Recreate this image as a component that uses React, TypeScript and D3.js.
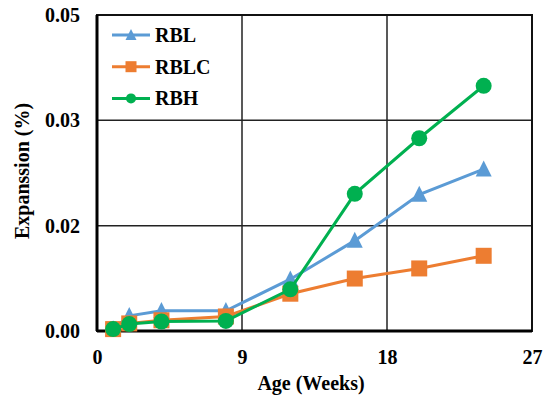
import React, { useEffect, useRef } from "react";
import * as d3 from "d3";

// weeks at which expansion was measured
const weeks = [1, 2, 4, 8, 12, 16, 20, 24];

// expansion (%)
const rbl = [0.0003, 0.0024, 0.0032, 0.0032, 0.0082, 0.0143, 0.0216, 0.0256];
const rblc = [0.0003, 0.0012, 0.0017, 0.0023, 0.0059, 0.0083, 0.0099, 0.0119];
const rbh = [0.0003, 0.0011, 0.0015, 0.0016, 0.0066, 0.0217, 0.0305, 0.0388];

const xTicks = [0, 9, 18, 27];
const yTickCount = 4; // Excel major unit = max / 3
const yMax = 0.05;

const seriesNames = ["RBL", "RBLC", "RBH"];
const seriesValues = [rbl, rblc, rbh];
const colors = ["#5B9BD5", "#ED7D31", "#00B050"];
const shapes = ["triangle", "square", "circle"];

const FONT = "'Liberation Serif', 'Times New Roman', serif";

export default function App() {
  const ref = useRef<SVGSVGElement>(null);

  useEffect(() => {
    const svg = d3.select(ref.current);
    svg.selectAll("*").remove();

    const width = 547;
    const height = 400;
    const margin = { top: 15, right: 15, bottom: 69, left: 97 };
    const innerW = width - margin.left - margin.right;
    const innerH = height - margin.top - margin.bottom;

    const x = d3.scaleLinear().domain([0, 27]).range([0, innerW]);
    const y = d3.scaleLinear().domain([0, yMax]).range([innerH, 0]);
    const yTicks = d3.range(yTickCount).map(i => (i * yMax) / (yTickCount - 1));

    const g = svg.append("g").attr("transform", `translate(${margin.left},${margin.top})`);

    // grid
    g.selectAll(".vgrid")
      .data(xTicks.slice(1, -1))
      .join("line")
      .attr("x1", d => x(d)).attr("x2", d => x(d))
      .attr("y1", 0).attr("y2", innerH)
      .attr("stroke", "#222").attr("stroke-width", 1.5);
    g.selectAll(".hgrid")
      .data(yTicks.slice(1, -1))
      .join("line")
      .attr("x1", 0).attr("x2", innerW)
      .attr("y1", d => y(d)).attr("y2", d => y(d))
      .attr("stroke", "#222").attr("stroke-width", 1.5);

    // frame
    g.append("rect")
      .attr("width", innerW).attr("height", innerH)
      .attr("fill", "none").attr("stroke", "#111").attr("stroke-width", 2);
    g.append("line").attr("x1", 0).attr("x2", innerW).attr("y1", innerH).attr("y2", innerH)
      .attr("stroke", "#000").attr("stroke-width", 3);
    g.append("line").attr("x1", 0).attr("x2", 0).attr("y1", 0).attr("y2", innerH)
      .attr("stroke", "#000").attr("stroke-width", 3);

    // axes
    const xAxis = g.append("g")
      .attr("transform", `translate(0,${innerH})`)
      .call(d3.axisBottom(x).tickValues(xTicks).tickSize(0).tickPadding(19).tickFormat(d3.format("d")));
    const yAxis = g.append("g")
      .call(d3.axisLeft(y).tickValues(yTicks).tickSize(0).tickPadding(17).tickFormat(d3.format(".2f")));
    [xAxis, yAxis].forEach(a => {
      a.select(".domain").remove();
      a.selectAll("text")
        .attr("fill", "#000")
        .style("font-family", FONT)
        .style("font-size", "20px")
        .style("font-weight", "bold");
    });

    const line = d3.line<number>()
      .x((_, i) => x(weeks[i]))
      .y(d => y(d));

    const drawMarker = (sel: any, shape: string, color: string, size: number) => {
      if (shape === "circle") {
        sel.append("circle").attr("r", size / 2).attr("fill", color);
      } else if (shape === "square") {
        sel.append("rect")
          .attr("x", -size / 2).attr("y", -size / 2)
          .attr("width", size).attr("height", size).attr("fill", color);
      } else {
        const h = size;
        sel.append("path")
          .attr("d", `M0,${-h * 0.55}L${size / 2},${h * 0.45}L${-size / 2},${h * 0.45}Z`)
          .attr("fill", color);
      }
    };

    seriesValues.forEach((vals, s) => {
      g.append("path")
        .datum(vals)
        .attr("d", line)
        .attr("fill", "none")
        .attr("stroke", colors[s])
        .attr("stroke-width", 3);
      vals.forEach((v, i) => {
        const m = g.append("g").attr("transform", `translate(${x(weeks[i])},${y(v)})`);
        drawMarker(m, shapes[s], colors[s], s === 2 ? 16 : 16);
      });
    });

    // legend
    const legend = svg.append("g").attr("transform", "translate(112,35)");
    seriesNames.forEach((name, i) => {
      const row = legend.append("g").attr("transform", `translate(0,${i * 31.7})`);
      row.append("line").attr("x1", 0).attr("x2", 38).attr("y1", 0).attr("y2", 0)
        .attr("stroke", colors[i]).attr("stroke-width", 3);
      const m = row.append("g").attr("transform", "translate(19,0)");
      drawMarker(m, shapes[i], colors[i], i === 2 ? 10 : 11);
      row.append("text")
        .attr("x", 43).attr("y", 7)
        .style("font-family", FONT).style("font-size", "20px").style("font-weight", "bold")
        .text(name);
    });

    // titles
    svg.append("text")
      .attr("x", 311).attr("y", 390)
      .attr("text-anchor", "middle")
      .style("font-family", FONT).style("font-size", "20px").style("font-weight", "bold")
      .text("Age (Weeks)");
    svg.append("text")
      .attr("transform", "translate(29,171) rotate(-90)")
      .attr("text-anchor", "middle")
      .style("font-family", FONT).style("font-size", "20px").style("font-weight", "bold")
      .text("Expanssion (%)");
  }, []);

  return (
    <svg
      ref={ref}
      width={547}
      height={400}
      style={{ position: "absolute", left: 0, top: 0, background: "#fff" }}
    />
  );
}
